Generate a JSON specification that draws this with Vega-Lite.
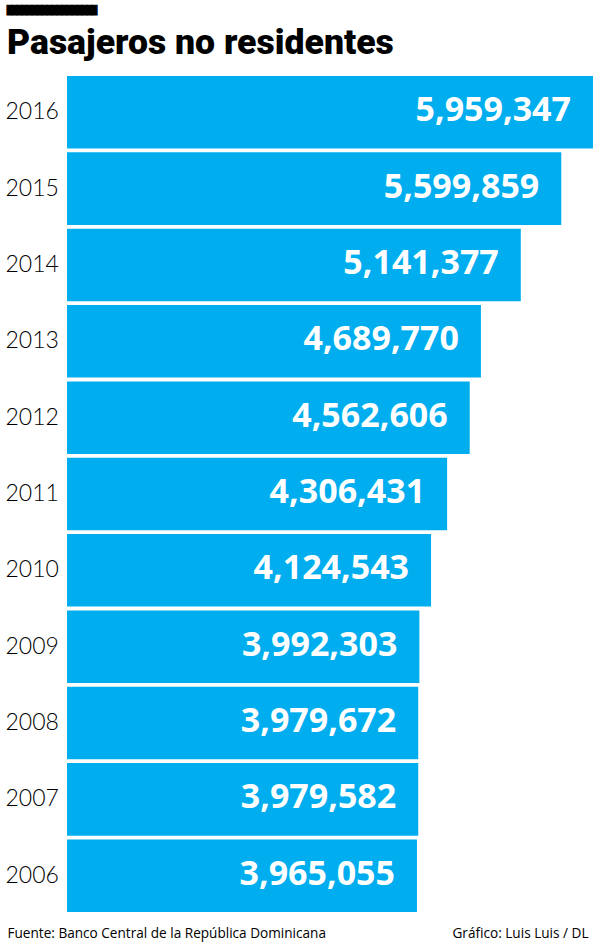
{
  "$schema": "https://vega.github.io/schema/vega-lite/v6.json",
  "autosize": "none",
  "width": 526,
  "height": 836,
  "padding": {"left": 67, "top": 76, "right": 7, "bottom": 35},
  "background": "white",
  "config": {
    "view": {"stroke": null},
    "style": {"blockbar": {"stroke": "#000000", "strokeWidth": 1}}
  },
  "title": {
    "text": "██████████████████",
    "subtitle": "Pasajeros no residentes",
    "style": "blockbar",
    "anchor": "start",
    "frame": "group",
    "dx": -60,
    "offset": 14,
    "font": "DejaVu Sans Mono",
    "fontSize": 8.3049,
    "color": "#000000",
    "subtitleFont": "Roboto",
    "subtitleFontSize": 35.6,
    "subtitleFontWeight": 900,
    "subtitleColor": "#000000",
    "subtitlePadding": 12
  },
  "data": {
    "values": [
      {"year": "2016", "value": 5959347},
      {"year": "2015", "value": 5599859},
      {"year": "2014", "value": 5141377},
      {"year": "2013", "value": 4689770},
      {"year": "2012", "value": 4562606},
      {"year": "2011", "value": 4306431},
      {"year": "2010", "value": 4124543},
      {"year": "2009", "value": 3992303},
      {"year": "2008", "value": 3979672},
      {"year": "2007", "value": 3979582},
      {"year": "2006", "value": 3965055}
    ]
  },
  "encoding": {
    "y": {
      "field": "year",
      "type": "ordinal",
      "sort": "descending",
      "scale": {"paddingInner": 0.05, "paddingOuter": 0},
      "axis": {
        "title": null,
        "domain": false,
        "ticks": false,
        "labelAlign": "left",
        "labelPadding": 62,
        "labelFont": "Lato",
        "labelFontWeight": 300,
        "labelFontSize": 23,
        "labelColor": "#000000"
      }
    }
  },
  "layer": [
    {
      "mark": {"type": "bar", "color": "#00AEEF"},
      "encoding": {
        "x": {
          "field": "value",
          "type": "quantitative",
          "scale": {"domain": [0, 5959347], "nice": false, "zero": true},
          "axis": {
            "orient": "bottom",
            "title": "Fuente: Banco Central de la República Dominicana",
            "labels": false,
            "ticks": false,
            "domain": false,
            "grid": false,
            "titleX": -60,
            "titleY": 21,
            "titleAnchor": null,
            "titleAlign": "left",
            "titleBaseline": "middle",
            "titleFont": "Open Sans",
            "titleFontWeight": "normal",
            "titleFontSize": 13.6,
            "titleColor": "#000000"
          }
        }
      }
    },
    {
      "mark": {
        "type": "text",
        "align": "right",
        "baseline": "middle",
        "dx": -22,
        "dy": -1,
        "font": "Open Sans",
        "fontWeight": "bold",
        "fontSize": 34,
        "color": "#FFFFFF"
      },
      "encoding": {
        "x": {
          "field": "value",
          "type": "quantitative",
          "axis": {
            "orient": "bottom",
            "title": "Gráfico: Luis Luis / DL",
            "labels": false,
            "ticks": false,
            "domain": false,
            "grid": false,
            "titleX": 521,
            "titleY": 21,
            "titleAnchor": null,
            "titleAlign": "right",
            "titleBaseline": "middle",
            "titleFont": "Open Sans",
            "titleFontWeight": "normal",
            "titleFontSize": 13.6,
            "titleColor": "#000000"
          }
        },
        "text": {"field": "value", "type": "quantitative", "format": ","}
      }
    }
  ],
  "resolve": {"axis": {"x": "independent"}}
}
